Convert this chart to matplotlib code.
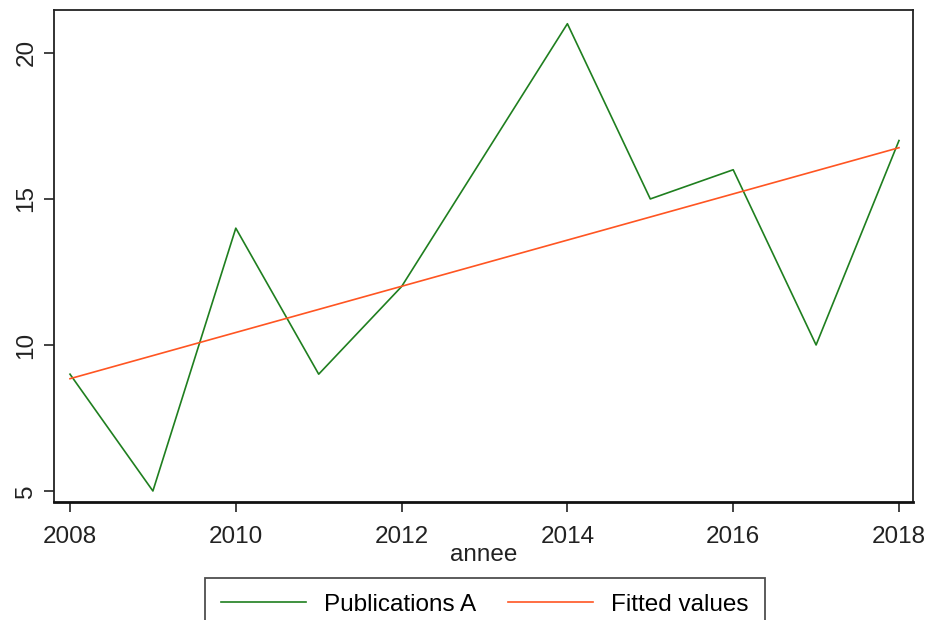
import numpy as np
import matplotlib
matplotlib.use("Agg")
import matplotlib.pyplot as plt

plt.rcParams['font.family'] = ['Liberation Sans', 'DejaVu Sans']

years = [2008, 2009, 2010, 2011, 2012, 2014, 2015, 2016, 2017, 2018]
publications = [9, 5, 14, 9, 12, 21, 15, 16, 10, 17]
xticks = [2008, 2010, 2012, 2014, 2016, 2018]
yticks = [5, 10, 15, 20]

coef = np.polyfit(years, publications, 1)
fitted = np.polyval(coef, years)

FS = 17.5
fig = plt.figure(figsize=(9.27, 6.20), dpi=100)
ax = fig.add_axes([54/927, 1-502/620, (913-54)/927, (502-10)/620])

ax.plot(years, publications, color='#1f7f1f', lw=1.2, label='Publications A')
ax.plot(years, fitted, color='#ff5522', lw=1.2, label='Fitted values')

ax.set_xlim(2007.807, 2018.169)
ax.set_ylim(4.623, 21.47)
ax.set_xticks(xticks)
ax.set_yticks(yticks)
ax.tick_params(axis='both', direction='out', length=7, width=1.2, color='#222222',
               labelsize=FS, labelcolor='#222222')
ax.tick_params(axis='x', pad=10.5)
ax.tick_params(axis='y', pad=5)
for lab in ax.get_yticklabels():
    lab.set_rotation(90)
    lab.set_va('center')
for s in ['left', 'top', 'right']:
    ax.spines[s].set_linewidth(1.3)
    ax.spines[s].set_color('#222222')
ax.spines['bottom'].set_linewidth(2.0)
ax.spines['bottom'].set_color('#111111')

ax.set_xlabel('annee', fontsize=FS, color='#222222', labelpad=-3)

leg = fig.legend(loc='upper center', bbox_to_anchor=(485/927, 1-578/620), ncol=2,
                 frameon=True, fancybox=False, edgecolor='#222222', fontsize=FS,
                 handlelength=3.5, columnspacing=1.3, borderpad=0.65, handletextpad=0.75,
                 borderaxespad=0)
leg.get_frame().set_linewidth(1.3)

fig.savefig('out.png', dpi=100)
